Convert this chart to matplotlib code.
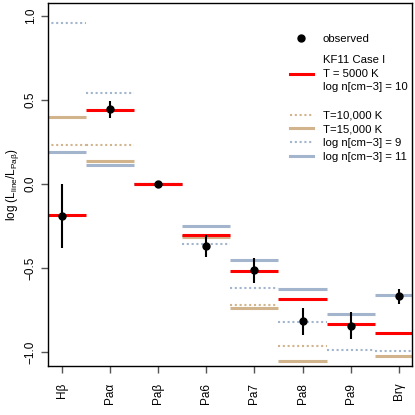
import numpy as np
import matplotlib
matplotlib.use('Agg')
import matplotlib.pyplot as plt
from matplotlib.lines import Line2D

plt.rcParams['font.family'] = ['Liberation Sans', 'DejaVu Sans']
plt.rcParams['mathtext.fontset'] = 'custom'
plt.rcParams['mathtext.rm'] = 'Liberation Sans'
plt.rcParams['mathtext.it'] = 'Liberation Sans'

# --------------------------
# data: log(L_line / L_Pabeta)
# --------------------------
lines = ['Hβ', 'Paα', 'Paβ', 'Pa6', 'Pa7', 'Pa8', 'Pa9', 'Brγ']
obs = [-0.19, 0.445, 0.0, -0.369, -0.514, -0.817, -0.843, -0.669]
obs_err = [0.19, 0.05, 0.0, 0.068, 0.073, 0.08, 0.08, 0.045]

kf11_base = [-0.186, 0.44, 0.0, -0.302, -0.52, -0.687, -0.831, -0.885]   # T=5000 K, log n=10
t10000 = [0.234, 0.234, 0.0, -0.31, -0.718, -0.964, np.nan, np.nan]
t15000 = [0.397, 0.135, 0.0, -0.317, -0.74, -1.056, np.nan, -1.022]
logn9 = [0.96, 0.54, 0.0, -0.355, -0.617, -0.821, -0.986, -0.994]
logn11 = [0.189, 0.111, 0.0, -0.248, -0.454, -0.627, -0.776, -0.659]

red = '#FF0000'
tan = '#D2B48C'
steel = '#A2B5CD'
dot = (0, (1, 1.3))

# --------------------------
# plot
# --------------------------
fig = plt.figure(figsize=(4.15, 4.15), dpi=100)
ax = fig.add_axes([0.1157, 0.118, 0.877, 0.875])

x = np.arange(1, len(lines) + 1)
ax.hlines(t10000, x - 0.5, x + 0.5, colors=tan, lw=1.5, linestyles=dot)
ax.hlines(logn9, x - 0.5, x + 0.5, colors=steel, lw=1.5, linestyles=dot)
ax.hlines(t15000, x - 0.5, x + 0.5, colors=tan, lw=2.2)
ax.hlines(logn11, x - 0.5, x + 0.5, colors=steel, lw=2.2)
ax.hlines(kf11_base, x - 0.5, x + 0.5, colors=red, lw=2.2)
ax.errorbar(x, obs, yerr=obs_err, fmt='o', color='black', ms=5,
            elinewidth=1.5, capsize=0, zorder=5)

ax.set_xlim(0.72, 8.27)
ax.set_ylim(-1.083, 1.077)
ax.set_xticks(x)
ax.set_xticklabels(lines, rotation=90, fontsize=8.5)
ax.set_yticks([-1.0, -0.5, 0.0, 0.5, 1.0])
ax.set_yticklabels(['\u22121.0', '\u22120.5', '0.0', '0.5', '1.0'],
                   rotation=90, va='center', fontsize=8.5)
ax.tick_params(axis='both', length=5, width=1, color='#555555')
ax.tick_params(axis='x', pad=7)
ax.tick_params(axis='y', pad=3)
for s in ax.spines.values():
    s.set_linewidth(1.0)
ax.set_ylabel(r'log $(L_{\rm line}/L_{\rm Pa\beta})$', fontsize=8.5, labelpad=3)

# --------------------------
# legend
# --------------------------
fs = 8.2
h_obs = Line2D([], [], marker='o', color='black', ls='none', ms=5)
h_red = Line2D([], [], color=red, lw=2.2)
leg1 = ax.legend([h_obs, h_red],
                 ['observed', 'KF11 Case I\nT = 5000 K\nlog n[cm\u22123] = 10'],
                 loc='upper left', bbox_to_anchor=(0.665, 0.914), frameon=False,
                 fontsize=fs, borderpad=0, borderaxespad=0, handlelength=2.0,
                 handletextpad=0.85, labelspacing=0.95, numpoints=1)
for t in leg1.get_texts():
    t.set_linespacing(1.45)
ax.add_artist(leg1)

h2 = [Line2D([], [], color=tan, lw=1.5, ls=dot),
      Line2D([], [], color=tan, lw=2.2),
      Line2D([], [], color=steel, lw=1.5, ls=dot),
      Line2D([], [], color=steel, lw=2.2)]
ax.legend(h2, ['T=10,000 K', 'T=15,000 K', 'log n[cm\u22123] = 9', 'log n[cm\u22123] = 11'],
          loc='upper left', bbox_to_anchor=(0.665, 0.703), frameon=False,
          fontsize=fs, borderpad=0, borderaxespad=0, handlelength=2.0,
          handletextpad=0.85, labelspacing=0.32)

fig.savefig('out.png', dpi=100)
